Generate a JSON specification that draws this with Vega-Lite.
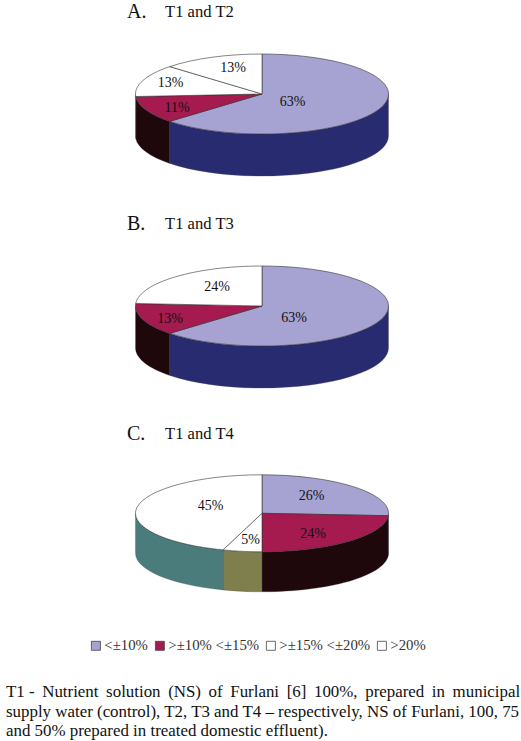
{
"$schema":"https://vega.github.io/schema/vega-lite/v6.json",
"width":521,"height":741,"padding":0,"autosize":"none","background":"white",
"config":{"view":{"stroke":null},"text":{"font":"Liberation Serif","color":"#111"}},
"layer":[
{"data":{"values":[
{"panel":"A","category":"<±10%","value":63},{"panel":"A","category":">±10% <±15%","value":11},{"panel":"A","category":">±15% <±20%","value":13},{"panel":"A","category":">20%","value":13},
{"panel":"B","category":"<±10%","value":63},{"panel":"B","category":">±10% <±15%","value":13},{"panel":"B","category":">20%","value":24},
{"panel":"C","category":"<±10%","value":26},{"panel":"C","category":">±10% <±15%","value":24},{"panel":"C","category":">±15% <±20%","value":5},{"panel":"C","category":">20%","value":45}
]},
"transform":[
{"calculate":"indexof(['<±10%','>±10% <±15%','>±15% <±20%','>20%'],datum.category)","as":"ord"},
{"window":[{"op":"sum","field":"value","as":"end"}],"sort":[{"field":"ord","order":"ascending"}],"groupby":["panel"],"frame":[null,0]},
{"calculate":"262","as":"cx"},
{"calculate":"{A:94,B:306,C:513.3}[datum.panel]","as":"cy"},
{"calculate":"126.5","as":"rx"},
{"calculate":"{A:40,B:40,C:38.5}[datum.panel]","as":"ry"},
{"calculate":"{A:42,B:42,C:40}[datum.panel]","as":"depth"},
{"calculate":"(datum.end-datum.value)*2*PI/100","as":"a0"},
{"calculate":"datum.end*2*PI/100","as":"a1"},
{"calculate":"'M0,0L'+(datum.rx*sin(datum.a0))+','+(-datum.ry*cos(datum.a0))+'A'+datum.rx+','+datum.ry+' 0 '+(datum.a1-datum.a0>PI?1:0)+' 1 '+(datum.rx*sin(datum.a1))+','+(-datum.ry*cos(datum.a1))+'Z'","as":"topPath"},
{"calculate":"max(datum.a0,PI/2)","as":"w0"},
{"calculate":"min(datum.a1,3*PI/2)","as":"w1"},
{"calculate":"'M'+(datum.rx*sin(datum.w0))+','+(-datum.ry*cos(datum.w0))+'A'+datum.rx+','+datum.ry+' 0 0 1 '+(datum.rx*sin(datum.w1))+','+(-datum.ry*cos(datum.w1))+'L'+(datum.rx*sin(datum.w1))+','+(-datum.ry*cos(datum.w1)+datum.depth)+'A'+datum.rx+','+datum.ry+' 0 0 0 '+(datum.rx*sin(datum.w0))+','+(-datum.ry*cos(datum.w0)+datum.depth)+'Z'","as":"wallPath"},
{"calculate":"['#282B70','#1E080B','#7F7F4D','#4B7C7C'][datum.ord]","as":"wallColor"},
{"calculate":"{A0:[292.7,101.7],A1:[177,107.7],A2:[170.7,83],A3:[233,68],B0:[294,317.7],B1:[170,319],B3:[217,287],C0:[311.7,496],C1:[313,534],C2:[250.7,540],C3:[210.7,506]}[datum.panel+datum.ord]","as":"labelPos"},
{"calculate":"datum.labelPos[0]","as":"lx"},
{"calculate":"datum.labelPos[1]","as":"ly"},
{"calculate":"datum.value+'%'","as":"label"}
],
"layer":[
{"transform":[{"filter":"datum.w1>datum.w0"}],
"mark":{"type":"point","filled":true,"opacity":1,"size":4,"stroke":"#444","strokeWidth":0.3},
"encoding":{
"x":{"field":"cx","type":"quantitative","scale":{"domain":[0,521],"range":[0,521]},"axis":null},
"y":{"field":"cy","type":"quantitative","scale":{"domain":[0,741],"range":[0,741]},"axis":null},
"shape":{"field":"wallPath","type":"nominal","scale":null},
"fill":{"field":"wallColor","type":"nominal","scale":null}
}},
{"mark":{"type":"point","filled":true,"opacity":1,"size":4,"stroke":"#333","strokeWidth":0.6},
"encoding":{
"x":{"field":"cx","type":"quantitative","scale":{"domain":[0,521],"range":[0,521]},"axis":null},
"y":{"field":"cy","type":"quantitative","scale":{"domain":[0,741],"range":[0,741]},"axis":null},
"shape":{"field":"topPath","type":"nominal","scale":null},
"fill":{"field":"category","type":"nominal","scale":{"domain":["<±10%",">±10% <±15%",">±15% <±20%",">20%"],"range":["#A6A3D3","#A51A4F","#FFFFFF","#FFFFFF"]},
"legend":{"orient":"none","legendX":88.5,"legendY":638,"direction":"horizontal","columns":4,"title":null,"padding":0,"symbolType":"square","symbolSize":81,"symbolStrokeColor":"#444","symbolStrokeWidth":0.8,"symbolOpacity":1,"labelFont":"Liberation Serif","labelFontSize":14.8,"labelColor":"#333","labelOffset":1,"columnPadding":4}}
}},
{"mark":{"type":"text","fontSize":14,"baseline":"middle","align":"center"},
"encoding":{
"x":{"field":"lx","type":"quantitative","scale":{"domain":[0,521],"range":[0,521]},"axis":null},
"y":{"field":"ly","type":"quantitative","scale":{"domain":[0,741],"range":[0,741]},"axis":null},
"text":{"field":"label","type":"nominal"}
}}
]},
{"data":{"values":[{"panel":"A","letter":"A.","pair":"T1 and T2"},{"panel":"B","letter":"B.","pair":"T1 and T3"},{"panel":"C","letter":"C.","pair":"T1 and T4"}]},
"transform":[{"calculate":"{A:18,B:230,C:440}[datum.panel]","as":"by"},{"calculate":"127","as":"lx"},{"calculate":"165","as":"px"}],
"layer":[
{"mark":{"type":"text","fontSize":20,"align":"left","baseline":"alphabetic"},
"encoding":{"x":{"field":"lx","type":"quantitative","scale":{"domain":[0,521],"range":[0,521]},"axis":null},"y":{"field":"by","type":"quantitative","scale":{"domain":[0,741],"range":[0,741]},"axis":null},"text":{"field":"letter"}}},
{"mark":{"type":"text","fontSize":16.6,"align":"left","baseline":"alphabetic","dy":-1},
"encoding":{"x":{"field":"px","type":"quantitative","scale":{"domain":[0,521],"range":[0,521]},"axis":null},"y":{"field":"by","type":"quantitative","scale":{"domain":[0,741],"range":[0,741]},"axis":null},"text":{"field":"pair"}}}
]},
{"data":{"values":[
{"line":"T1 - \u2009Nutrient \u2009solution \u2009(NS) \u2009of \u2009Furlani \u2009[6] \u2009100%, \u2009prepared \u2009in \u2009municipal","n":0},
{"line":"supply water (control), T2, T3 and T4 – respectively, NS of Furlani, 100, 75","n":1},
{"line":"and 50% prepared in treated domestic effluent).","n":2}
]},
"transform":[{"calculate":"[697,716.5,736][datum.n]","as":"by"},{"calculate":"6","as":"lx"}],
"mark":{"type":"text","fontSize":16.9,"align":"left","baseline":"alphabetic"},
"encoding":{"x":{"field":"lx","type":"quantitative","scale":{"domain":[0,521],"range":[0,521]},"axis":null},"y":{"field":"by","type":"quantitative","scale":{"domain":[0,741],"range":[0,741]},"axis":null},"text":{"field":"line"}}}
]
}
